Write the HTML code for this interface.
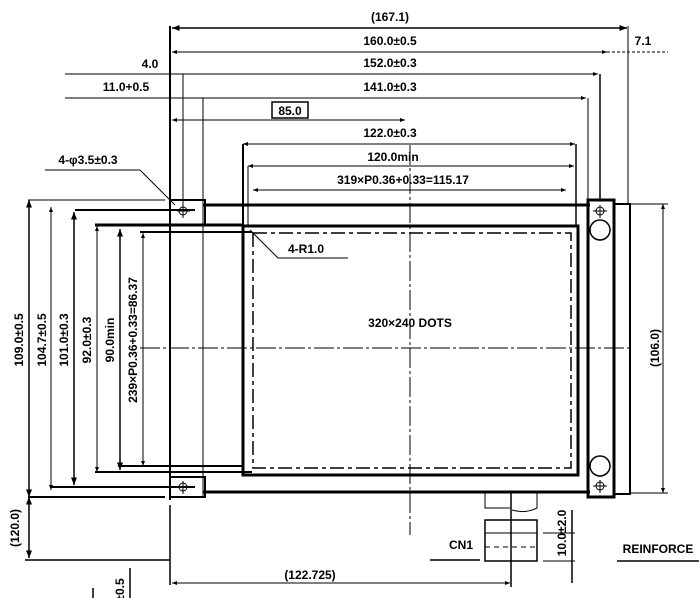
<!DOCTYPE html>
<html><head><meta charset="utf-8"><style>
html,body{margin:0;padding:0;background:#fff;}
svg{display:block;}
text{font-family:"Liberation Sans",sans-serif;font-size:12px;font-weight:bold;fill:#000;}
</style></head><body>
<svg width="699" height="598" viewBox="0 0 699 598" xmlns="http://www.w3.org/2000/svg">
<defs>
<marker id="a" viewBox="0 0 10 10" refX="10" refY="5" markerWidth="5" markerHeight="5" orient="auto-start-reverse"><path d="M0,1L10,5L0,9z" fill="#000"/></marker>
</defs>
<g stroke="#000" fill="none" stroke-width="1">
<line x1="172" y1="28" x2="627" y2="28" stroke-width="1.5" marker-start="url(#a)" marker-end="url(#a)"/>
<line x1="172" y1="52" x2="607" y2="52" marker-start="url(#a)" marker-end="url(#a)"/>
<line x1="607" y1="52" x2="668" y2="52" stroke-dasharray="3,2"/>
<line x1="65" y1="74" x2="598" y2="74" marker-end="url(#a)"/>
<line x1="65" y1="98" x2="586" y2="98" marker-end="url(#a)"/>
<line x1="172" y1="120" x2="405" y2="120" marker-start="url(#a)" marker-end="url(#a)"/>
<line x1="243" y1="144" x2="575" y2="144" marker-start="url(#a)" marker-end="url(#a)"/>
<line x1="248" y1="166" x2="574" y2="166" marker-start="url(#a)" marker-end="url(#a)"/>
<line x1="253" y1="190" x2="566" y2="190" marker-start="url(#a)" marker-end="url(#a)"/>
<line x1="170" y1="26" x2="170" y2="500" stroke-width="2"/>
<line x1="170" y1="505" x2="170" y2="585" stroke-width="1.5"/>
<line x1="183" y1="74" x2="183" y2="205"/>
<line x1="203" y1="98" x2="203" y2="497"/>
<line x1="243" y1="144" x2="243" y2="226" stroke-width="2"/>
<line x1="248" y1="166" x2="248" y2="226"/>
<line x1="576" y1="144" x2="576" y2="226" stroke-width="1.5"/>
<line x1="588" y1="98" x2="588" y2="200"/>
<line x1="600" y1="74" x2="600" y2="200" stroke-width="1.5"/>
<line x1="628" y1="26" x2="628" y2="205"/>
<polyline points="45,170 140,170 175,205"/>
<line x1="203" y1="205" x2="590" y2="205" stroke-width="3"/>
<line x1="203" y1="492" x2="590" y2="492" stroke-width="3"/>
<rect x="170" y="200" width="35" height="25" stroke-width="2"/>
<rect x="170" y="477" width="35" height="20" stroke-width="2"/>
<line x1="95" y1="225" x2="243" y2="225" stroke-width="3"/>
<line x1="140" y1="232" x2="252" y2="232" stroke-width="2"/>
<line x1="95" y1="472" x2="252" y2="472" stroke-width="2"/>
<line x1="118" y1="466" x2="243" y2="466" stroke-width="2"/>
<line x1="75" y1="210" x2="195" y2="210" stroke-width="2"/>
<line x1="50" y1="487" x2="195" y2="487" stroke-width="2"/>
<line x1="28" y1="200" x2="165" y2="200"/>
<line x1="28" y1="497" x2="165" y2="497" stroke-width="2"/>
<rect x="243" y="226" width="335" height="249" stroke-width="3"/>
<rect x="253" y="233" width="318" height="235" stroke-width="1.5" stroke-dasharray="14,4,4,4"/>
<polyline points="250,230 278,258 348,258"/>
<rect x="588" y="200" width="26" height="297" stroke-width="3"/>
<rect x="614" y="204" width="16" height="290" stroke-width="2"/>
<circle cx="600" cy="230" r="10" stroke-width="1.5"/>
<circle cx="600" cy="466" r="10" stroke-width="1.5"/>
<line x1="630" y1="204" x2="668" y2="204"/>
<line x1="630" y1="493" x2="668" y2="493"/>
<line x1="663" y1="204" x2="663" y2="493" marker-start="url(#a)" marker-end="url(#a)"/>
<g stroke-width="1">
<circle cx="183" cy="211" r="4"/><line x1="177" y1="211" x2="190" y2="211"/><line x1="183" y1="205" x2="183" y2="218"/>
<circle cx="183" cy="487" r="4"/><line x1="177" y1="487" x2="190" y2="487"/><line x1="183" y1="481" x2="183" y2="494"/>
<circle cx="600" cy="211" r="4"/><line x1="593" y1="211" x2="607" y2="211"/><line x1="600" y1="205" x2="600" y2="218"/>
<circle cx="600" cy="486" r="4"/><line x1="593" y1="486" x2="607" y2="486"/><line x1="600" y1="480" x2="600" y2="493"/>
</g>
<line x1="410" y1="145" x2="410" y2="535" stroke-dasharray="20,3,3,3"/>
<line x1="140" y1="348" x2="630" y2="348" stroke-dasharray="20,3,3,3"/>
<line x1="29" y1="200" x2="29" y2="497" stroke-width="1.5" marker-start="url(#a)" marker-end="url(#a)"/>
<line x1="51" y1="207" x2="51" y2="490" marker-start="url(#a)" marker-end="url(#a)"/>
<line x1="74" y1="212" x2="74" y2="485" stroke-width="1.5" marker-start="url(#a)" marker-end="url(#a)"/>
<line x1="97" y1="226" x2="97" y2="472" marker-start="url(#a)" marker-end="url(#a)"/>
<line x1="120" y1="229" x2="120" y2="470" stroke-width="1.5" marker-start="url(#a)" marker-end="url(#a)"/>
<line x1="143" y1="233" x2="143" y2="466" marker-start="url(#a)" marker-end="url(#a)"/>
<line x1="29" y1="497" x2="29" y2="558" stroke-width="1.5" marker-start="url(#a)" marker-end="url(#a)"/>
<line x1="25" y1="560" x2="170" y2="560" stroke-width="1.5"/>
<line x1="172" y1="583" x2="510" y2="583" marker-start="url(#a)" marker-end="url(#a)"/>
<line x1="130" y1="568" x2="130" y2="598" stroke-width="1.5"/>
<line x1="93" y1="588" x2="93" y2="598" stroke-width="1.5"/>
<line x1="511" y1="493" x2="511" y2="587" stroke-width="1.5"/>
<path d="M485,493 V508 H510 M537,493 V508 Q525,514 512,510"/>
<rect x="485" y="520" width="52" height="41" stroke-width="1.5"/>
<line x1="485" y1="533" x2="537" y2="533"/>
<line x1="485" y1="547" x2="537" y2="547" stroke-dasharray="5,4"/>
<line x1="430" y1="560" x2="480" y2="560" stroke-width="1.5"/>
<line x1="543" y1="533" x2="575" y2="533"/>
<line x1="543" y1="561" x2="575" y2="561"/>
<line x1="572" y1="510" x2="572" y2="583" stroke-width="1.5"/>
<line x1="617" y1="561" x2="699" y2="561" stroke-width="1.5"/>
</g>
<rect x="272" y="102" width="36" height="16" fill="#fff" stroke="#000" stroke-width="1.5"/>
<text x="390" y="21" text-anchor="middle">(167.1)</text>
<text x="390" y="45" text-anchor="middle">160.0±0.5</text>
<text x="390" y="67" text-anchor="middle">152.0±0.3</text>
<text x="390" y="91" text-anchor="middle">141.0±0.3</text>
<text x="290" y="115" text-anchor="middle">85.0</text>
<text x="390" y="137" text-anchor="middle">122.0±0.3</text>
<text x="393" y="161" text-anchor="middle">120.0min</text>
<text x="403" y="184" text-anchor="middle">319×P0.36+0.33=115.17</text>
<text x="643" y="45" text-anchor="middle">7.1</text>
<text x="150" y="68" text-anchor="middle">4.0</text>
<text x="126" y="91" text-anchor="middle">11.0+0.5</text>
<text x="88" y="164" text-anchor="middle">4-φ3.5±0.3</text>
<text x="306" y="253" text-anchor="middle">4-R1.0</text>
<text x="410" y="327" text-anchor="middle">320×240 DOTS</text>
<text x="461" y="549" text-anchor="middle">CN1</text>
<text x="658" y="553" text-anchor="middle">REINFORCE</text>
<text x="310" y="579" text-anchor="middle">(122.725)</text>
<text transform="translate(23,340) rotate(-90)" text-anchor="middle">109.0±0.5</text>
<text transform="translate(46,340) rotate(-90)" text-anchor="middle">104.7±0.5</text>
<text transform="translate(68,340) rotate(-90)" text-anchor="middle">101.0±0.3</text>
<text transform="translate(91,340) rotate(-90)" text-anchor="middle">92.0±0.3</text>
<text transform="translate(114,340) rotate(-90)" text-anchor="middle">90.0min</text>
<text transform="translate(137,340) rotate(-90)" text-anchor="middle">239×P0.36+0.33=86.37</text>
<text transform="translate(659,348) rotate(-90)" text-anchor="middle">(106.0)</text>
<text transform="translate(19,528) rotate(-90)" text-anchor="middle">(120.0)</text>
<text transform="translate(566,533) rotate(-90)" text-anchor="middle">10.0±2.0</text>
<text transform="translate(124,590) rotate(-90)" text-anchor="middle">±0.5</text>
</svg>
</body></html>
